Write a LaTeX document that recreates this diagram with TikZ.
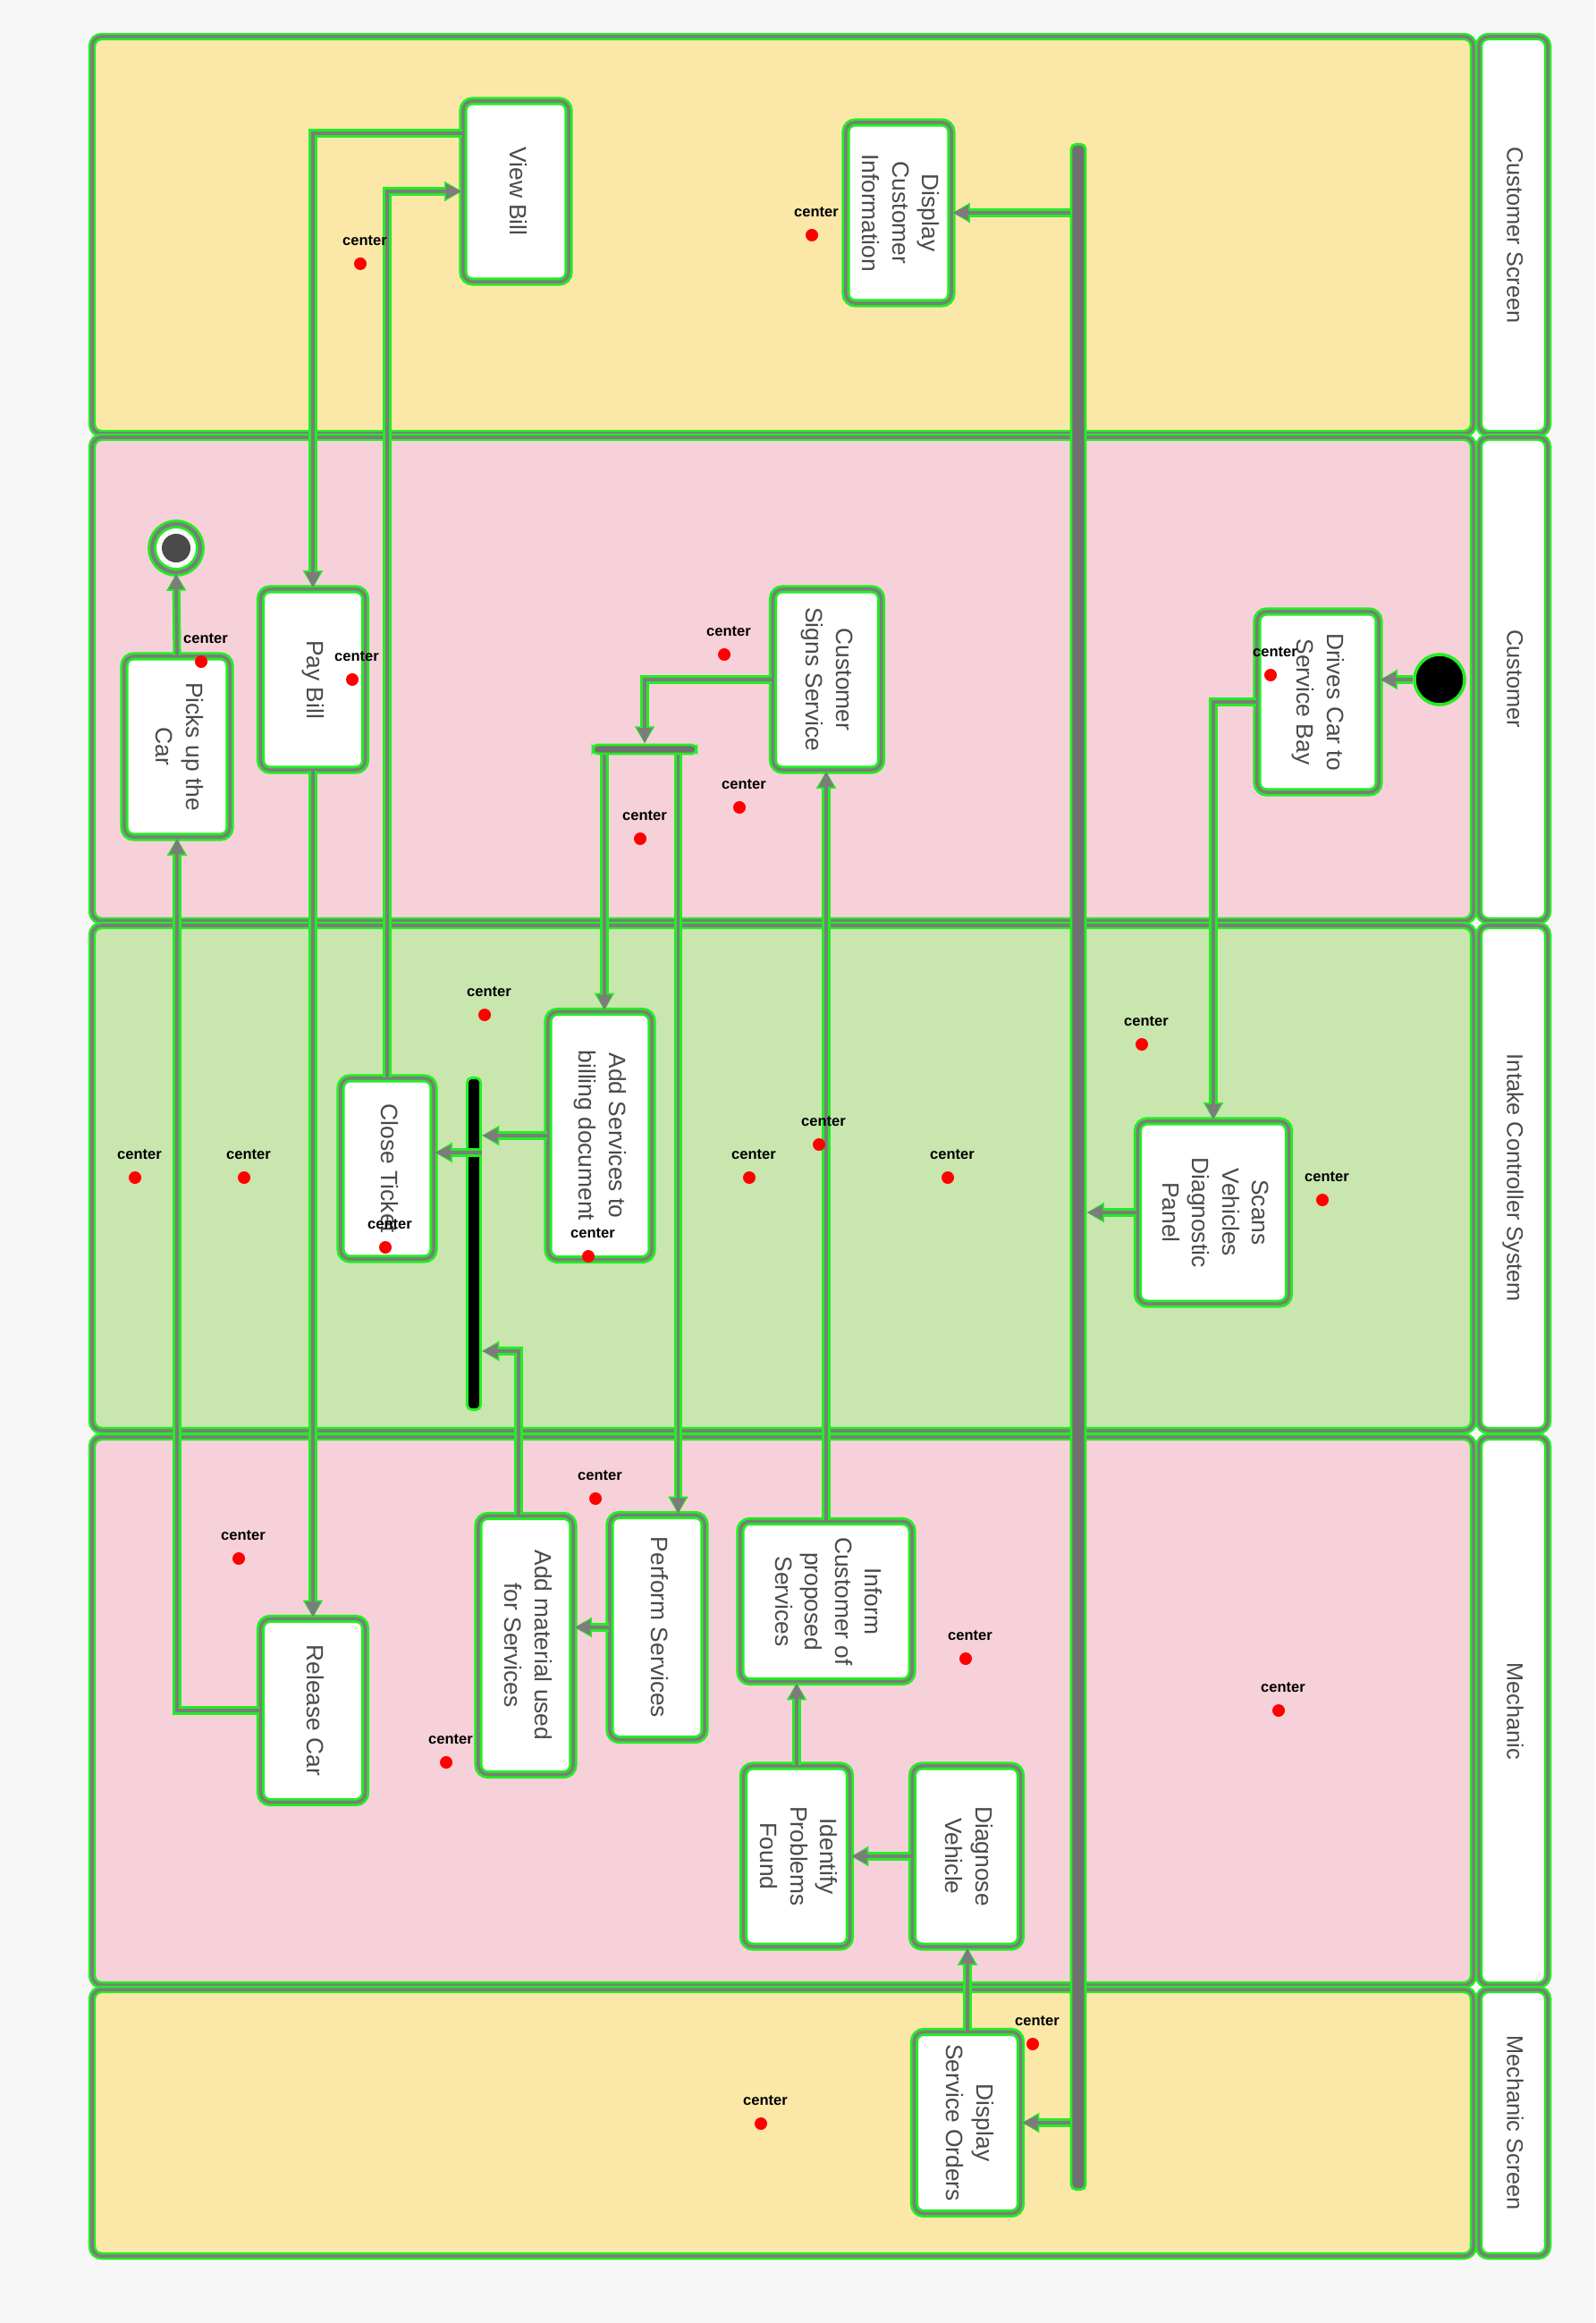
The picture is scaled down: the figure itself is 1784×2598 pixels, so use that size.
\documentclass[tikz,border=0pt]{standalone}
\usepackage{fontspec}
\setmainfont{Liberation Sans}
\usepackage{graphicx}
\usepackage{xcolor}
\usepackage{tikz}
\usetikzlibrary{arrows.meta, positioning, calc}

\definecolor{screenyel}{HTML}{FBE8A9}
\definecolor{custpink}{HTML}{F7D1DA}
\definecolor{sysgreen}{HTML}{C8E6AE}
\definecolor{glow}{HTML}{22EE22}
\definecolor{lgray}{HTML}{7C7C7C}
\definecolor{txtgray}{HTML}{4A4A4A}
\definecolor{dotred}{HTML}{FF0000}

% text set top to bottom, first line on the right
\newcommand{\vtext}[1]{\rotatebox{-90}{\begin{tabular}{@{}c@{}}#1\end{tabular}}}

\tikzset{
  lane/.style={draw=glow, double=lgray, double distance=1pt, line width=0.7pt, rounded corners=3pt},
  lanelabel/.style={text=txtgray, font=\fontsize{7.2}{9}\selectfont, inner sep=0pt},
  act/.style={draw=glow, double=lgray, double distance=1pt, line width=0.8pt, fill=white,
    rounded corners=3pt, inner sep=0pt, text=txtgray, font=\fontsize{7.5}{9.5}\selectfont},
  forkbar/.style={draw=glow, line width=0.8pt, fill=lgray!90!black, inner sep=0pt, rounded corners=1.5pt},
  flow/.style={draw=lgray, line width=1.1pt, -{Triangle[length=5pt,width=4.5pt]},
    preaction={draw=glow, line width=2.6pt, -{Triangle[length=5.5pt,width=6pt]}}},
  ctr/.style={font=\fontsize{4.7}{5}\selectfont\bfseries, text=black, inner sep=0pt},
}

\begin{document}
\begin{tikzpicture}[x=0.01cm,y=-0.01cm]
  \useasboundingbox (0,0) rectangle (1784,2598);
  \fill[white!97!black] (0,0) rectangle (1784,2598);

  % swimlanes, header column on the right
  \foreach \top/\bot/\col/\txt [count=\i] in {
    41/485/screenyel/{Customer Screen},
    489/1030/custpink/{Customer},
    1035/1600/sysgreen/{Intake Controller System},
    1607/2220/custpink/{Mechanic},
    2225/2523/screenyel/{Mechanic Screen}
  }{
    \draw[lane,fill=\col] (103,\top) rectangle (1648,\bot);
    \draw[lane,fill=white] (1654,\top) rectangle (1731,\bot);
    \node[lanelabel] (hdr\i) at (1692,{(\top+\bot)/2}) {\vtext{\txt}};
  }

  % actions
  \node[act, minimum width=1.18cm, minimum height=2.02cm] (A) at (577,214) {\vtext{View Bill}};
  \node[act, minimum width=1.18cm, minimum height=2.02cm] (B) at (1005,238) {\vtext{Display\\Customer\\Information}};
  \node[act, minimum width=1.18cm, minimum height=2.02cm] (C) at (198,835) {\vtext{Picks up the\\Car}};
  \node[act, minimum width=1.17cm, minimum height=2.02cm] (D) at (350,760) {\vtext{Pay Bill}};
  \node[act, minimum width=1.21cm, minimum height=2.02cm] (E) at (925,760) {\vtext{Customer\\Signs Service}};
  \node[act, minimum width=1.36cm, minimum height=2.02cm] (F) at (1474,785) {\vtext{Drives Car to\\Service Bay}};
  \node[act, minimum width=1.69cm, minimum height=2.04cm] (G) at (1357,1356) {\vtext{Scans\\Vehicles\\Diagnostic\\Panel}};
  \node[act, minimum width=1.16cm, minimum height=2.77cm] (H) at (671,1270) {\vtext{Add Services to\\billing document}};
  \node[act, minimum width=1.04cm, minimum height=2.02cm] (I) at (433,1307) {\vtext{Close Ticket}};
  \node[act, minimum width=1.17cm, minimum height=2.05cm] (J) at (350,1913) {\vtext{Release Car}};
  \node[act, minimum width=1.06cm, minimum height=2.89cm] (K) at (588,1840) {\vtext{Add material used\\for Services}};
  \node[act, minimum width=1.06cm, minimum height=2.51cm] (L) at (735,1820) {\vtext{Perform Services}};
  \node[act, minimum width=1.92cm, minimum height=1.79cm] (M) at (924,1791) {\vtext{Inform\\Customer of\\proposed\\Services}};
  \node[act, minimum width=1.19cm, minimum height=2.02cm] (N) at (891,2076) {\vtext{Identify\\Problems\\Found}};
  \node[act, minimum width=1.21cm, minimum height=2.02cm] (O) at (1081,2076) {\vtext{Diagnose\\Vehicle}};
  \node[act, minimum width=1.19cm, minimum height=2.03cm] (P) at (1082,2374) {\vtext{Display\\Service Orders}};

  % control nodes
  \node[circle, fill=black, draw=glow, line width=1pt, minimum size=0.56cm] (init) at (1610,760) {};
  \node[circle, fill=white, draw=glow, double=lgray, double distance=1.2pt, line width=0.8pt, minimum size=0.54cm] (final) at (197,613) {};
  \fill[lgray!60!black] (final) circle (0.16cm);
  \node[forkbar, minimum width=0.16cm, minimum height=22.86cm] (fork) at (1206,1305) {};
  \node[forkbar, fill=black, minimum width=0.15cm, minimum height=3.71cm] (bbar) at (530,1391) {};
  \node[forkbar, minimum width=1.16cm, minimum height=0.1cm] (join) at (721,838) {};
  \coordinate (bbarK) at ($(bbar.east)+(0,120)$);
  \coordinate (bbarI) at ($(bbar.east)+(0,-102)$);

  % flows
  \draw[flow] (init.west) -- (init.west -| F.east);
  \draw[flow] (F.west) -| (G.north);
  \draw[flow] (G.west) -- (G.west -| fork.east);
  \draw[flow] (fork.west |- B.east) -- (B.east);
  \draw[flow] (fork.west |- P.east) -- (P.east);
  \draw[flow] (P.north) -- (P.north |- O.south);
  \draw[flow] (O.west) -- (O.west -| N.east);
  \draw[flow] (N.north) -- (N.north |- M.south);
  \draw[flow] (M.north) -- (M.north |- E.south);
  \draw[flow] (E.west) -| (join.north);
  \draw[flow] ([xshift=0.05cm]join.south -| H.north) -- ([xshift=0.05cm]H.north);
  \draw[flow] ([xshift=-0.22cm]join.south east) -- ([xshift=-0.22cm]join.south east |- L.north);
  \draw[flow] (L.west) -- (L.west -| K.east);
  \draw[flow] ([xshift=-0.08cm]K.north) |- (bbarK);
  \draw[flow] (H.west) -- (H.west -| bbar.east);
  \draw[flow] (bbarI) -- (bbarI -| I.east);
  \draw[flow] (I.north) |- (A.west);
  \draw[flow] ([yshift=0.65cm]A.west) -| (D.north);
  \draw[flow] (D.south) -- (J.north);
  \draw[flow] (J.west) -| (C.south);
  \draw[flow] (C.north) -- (final.south);

  % region centre marks
  \foreach \x/\y [count=\k] in {403/295, 908/263, 225/740, 394/760, 810/732, 827/903, 716/938,
      542/1135, 1277/1168, 151/1317, 273/1317, 838/1317, 916/1280, 1060/1317, 1479/1342,
      666/1676, 267/1743, 1080/1855, 1430/1913, 499/1971, 1155/2286, 851/2375,
      1421/755, 658/1405, 431/1395}{
    \fill[dotred] (\x,\y) circle (0.07cm);
    \node[ctr] (c\k) at (\x+5,\y-26) {center};
  }
\end{tikzpicture}
\end{document}
